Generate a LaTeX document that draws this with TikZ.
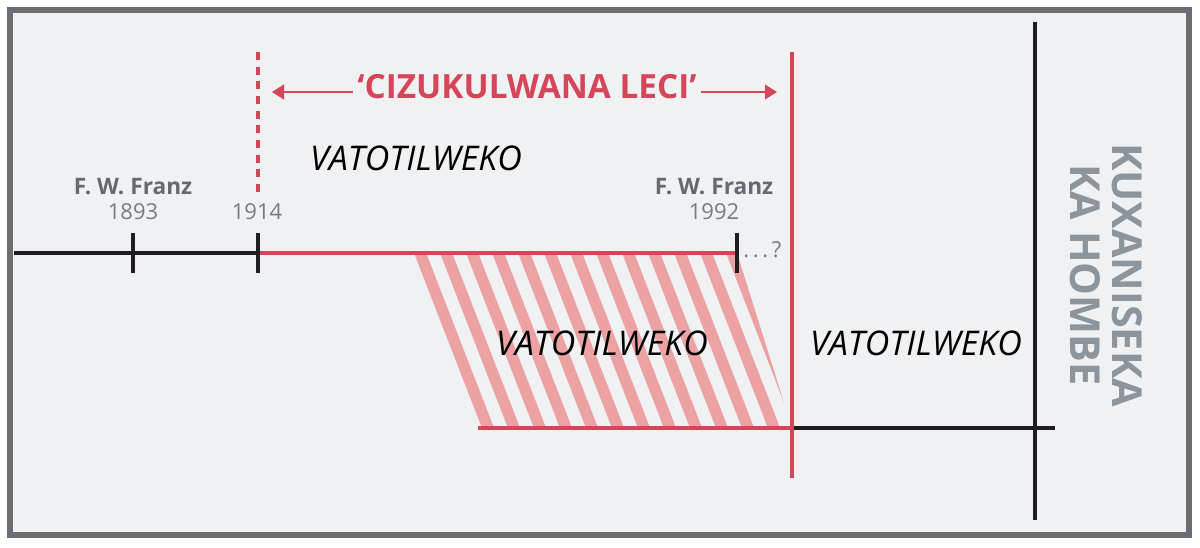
\documentclass[tikz,border=0pt]{standalone}
\usepackage{fontspec}
\setmainfont{Open Sans}
\usetikzlibrary{arrows.meta}
\definecolor{framegray}{RGB}{105,110,115}
\definecolor{panelgray}{RGB}{240,241,243}
\definecolor{labelgray}{RGB}{100,106,112}
\definecolor{yeargray}{RGB}{118,124,130}
\definecolor{titlegray}{RGB}{140,148,156}
\definecolor{timered}{RGB}{214,70,90}
\definecolor{hatchred}{RGB}{236,162,162}
\definecolor{timeblack}{RGB}{30,30,32}

\begin{document}
\begin{tikzpicture}[x=0.75pt,y=-0.75pt,
    redline/.style={draw=timered,line width=3pt},
    blackline/.style={draw=timeblack,line width=2.5pt},
    redarrow/.style={draw=timered,line width=1.5pt,-{Triangle[length=9pt,width=11pt]}},
    era/.style={font=\itshape\fontsize{25.5}{28}\selectfont,text=black,anchor=base,inner sep=0pt},
    who/.style={font=\bfseries\fontsize{17}{19}\selectfont,text=labelgray,anchor=base,inner sep=0pt},
    year/.style={font=\fontsize{16.5}{18}\selectfont,text=yeargray,anchor=base,inner sep=0pt}]
        \useasboundingbox (0,0) rectangle (1200,547);
        \fill[white] (0,0) rectangle (1200,547);
        % frame
        \draw[framegray,line width=4.5pt,fill=panelgray] (10,10) rectangle (1189,535);
        % points on the time line
        \coordinate (start) at (14,253);
        \coordinate (y1893) at (133,253);
        \coordinate (y1914) at (258,253);
        \coordinate (hatchtop) at (411,253);
        \coordinate (y1992) at (737,253);
        \coordinate (hatchbot) at (478,428);
        \coordinate (cut) at (792,428);
        \coordinate (endline) at (1055,428);
        \coordinate (cuttop) at (792,52);
        \coordinate (cutbot) at (792,478);
        \coordinate (dashtop) at (258,52);
        \coordinate (dashbot) at (258,192);
        \coordinate (limtop) at (1035,22);
        \coordinate (limbot) at (1035,520);
        % hatched band
        \begin{scope}
            \clip (hatchtop) -- (y1992) -- (cut) -- (hatchbot) -- cycle;
            \foreach \k in {0,...,13}
                \draw[hatchred,line width=8.5pt] ({417+26*\k},245) -- ++(71,183);
        \end{scope}
        % time lines
        \draw[blackline] (start) -- (y1914);
        \draw[redline] (y1914) -- (y1992);
        \draw[redline] (hatchbot) -- (cut);
        \draw[blackline] (cut) -- (endline);
        \draw[blackline] (limtop) -- (limbot);
        \draw[redline] (cuttop) -- (cutbot);
        \draw[redline,dash pattern=on 6pt off 5pt] (dashtop) -- (dashbot);
        % ticks
        \foreach \p in {y1893,y1914,y1992}
            \draw[blackline] ([yshift=15pt]\p) -- ([yshift=-15pt]\p);
        % title
        \node[font=\bfseries\fontsize{25}{28}\selectfont,text=timered,anchor=base,inner sep=3pt] (title) at (527,98) {‘CIZUKULWANA LECI’};
        \coordinate (leftend) at (272,92);
        \coordinate (rightend) at (777,92);
        \draw[redarrow] (title.west |- leftend) -- (leftend);
        \draw[redarrow] (title.east |- rightend) -- (rightend);
        % labels
        \node[era] (era1) at (416,170) {VATOTILWEKO};
        \node[era] (era2) at (602,355) {VATOTILWEKO};
        \node[era] (era3) at (916,355) {VATOTILWEKO};
        \node[who] (franz1) at (133,194) {F. W. Franz};
        \node[year] (yr1893) at (133,219) {1893};
        \node[year] (yr1914) at (257,219) {1914};
        \node[who] (franz2) at (714,194) {F. W. Franz};
        \node[year] (yr1992) at (714,219) {1992};
        \node[year,anchor=base west] (dots) at (743,257) {.\,.\,.\,?};
        \node[font=\bfseries\fontsize{31}{31.5}\selectfont,text=titlegray,align=center,rotate=-90] (end) at (1106,275) {KUXANISEKA\\KA HOMBE};
    \end{tikzpicture}
\end{document}
